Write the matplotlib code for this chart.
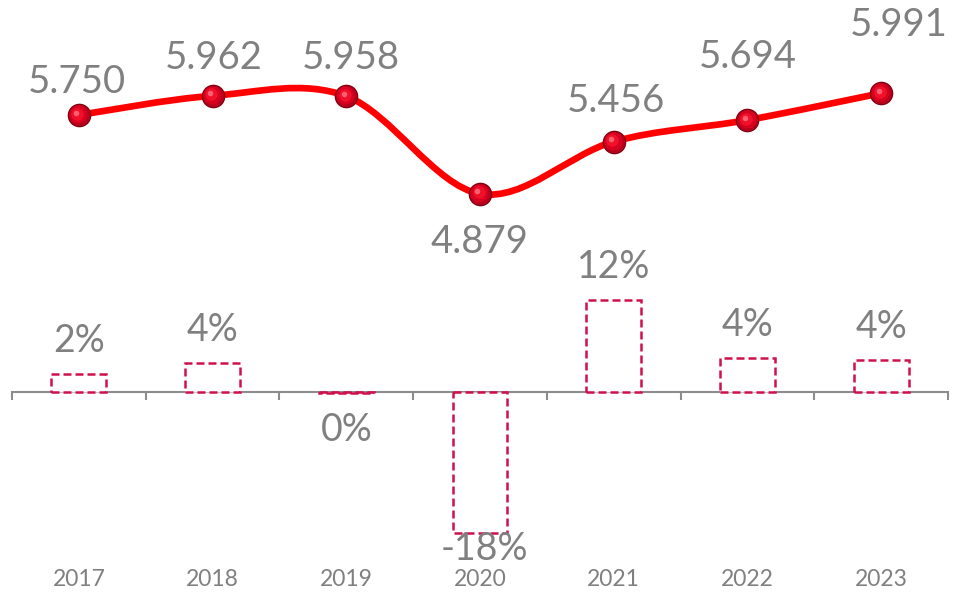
import numpy as np
import matplotlib
matplotlib.use("Agg")
import matplotlib.pyplot as plt
from matplotlib.path import Path
from matplotlib.patches import PathPatch
from matplotlib.transforms import blended_transform_factory, offset_copy

years = ["2017", "2018", "2019", "2020", "2021", "2022", "2023"]
values = [5750, 5962, 5958, 4879, 5456, 5694, 5991]
value_labels = ["5.750", "5.962", "5.958", "4.879", "5.456", "5.694", "5.991"]
growth = [2.3, 3.7, -0.1, -18.1, 11.8, 4.4, 4.1]
growth_labels = ["2%", "4%", "0%", "-18%", "12%", "4%", "4%"]

plt.rcParams['font.family'] = ['Lato', 'DejaVu Sans']
GREY = "#808080"
RED = "#FF0000"
BAR_EDGE = "#D0104C"

W, H = 955, 597
fig = plt.figure(figsize=(W / 100, H / 100), dpi=100)

left = 12 / W
width = (948 - 12) / W

# ---------- top: line ----------
y_lo, y_hi = 4500, 6200
top_px_hi = 115 - (y_hi - 5750) / 11.05
top_px_lo = 115 - (y_lo - 5750) / 11.05
ax1 = fig.add_axes([left, (H - top_px_lo) / H, width, (top_px_lo - top_px_hi) / H])
ax1.set_xlim(-0.5, 6.5)
ax1.set_ylim(y_lo, y_hi)
ax1.axis("off")

x = np.arange(len(values), dtype=float)
pts = np.column_stack([x, np.array(values, dtype=float)])
verts = [tuple(pts[0])]
codes = [Path.MOVETO]
n = len(pts)
for i in range(n - 1):
    p0 = pts[max(i - 1, 0)]
    p1 = pts[i]
    p2 = pts[i + 1]
    p3 = pts[min(i + 2, n - 1)]
    c1 = p1 + (p2 - p0) / 6.0
    c2 = p2 - (p3 - p1) / 6.0
    verts += [tuple(c1), tuple(c2), tuple(p2)]
    codes += [Path.CURVE4] * 3
ax1.add_patch(PathPatch(Path(verts, codes), facecolor="none", edgecolor=RED,
                        lw=4.8, capstyle="round", zorder=2, clip_on=False))

# shaded sphere markers
layers = [(17, "#7A0010", 0, 0), (15.5, "#B3001B", 0, 0), (13, "#D8001F", -0.6, 0.6),
          (9, "#F0102A", -1.0, 1.0), (4, "#FF6070", -1.8, 1.8)]
for ms, col, dx, dy in layers:
    tr = offset_copy(ax1.transData, fig=fig, x=dx, y=dy, units="points")
    ax1.plot(x, values, linestyle="none", marker="o", ms=ms, color=col,
             markeredgewidth=0, transform=tr, zorder=3, clip_on=False)

offsets = [(-2, 33), (1, 38), (5, 38), (-1, -48), (2, 41), (0, 63), (18, 68)]
for xi, v, lab, (dx, dy) in zip(x, values, value_labels, offsets):
    ax1.annotate(lab, (xi, v), xytext=(dx * 0.72, dy * 0.72), textcoords="offset points",
                 ha="center", va="center", fontsize=27.5, color=GREY,
                 annotation_clip=False)

# ---------- bottom: bars ----------
px_per = 7.8
g_lo, g_hi = -20, 14
zero_px = 392
b_bottom_px = zero_px - g_lo * px_per
b_top_px = zero_px - g_hi * px_per
ax2 = fig.add_axes([left, (H - b_bottom_px) / H, width, (b_bottom_px - b_top_px) / H])
ax2.set_xlim(-0.5, 6.5)
ax2.set_ylim(g_lo, g_hi)
for s in ["top", "right", "left"]:
    ax2.spines[s].set_visible(False)
ax2.spines["bottom"].set_position(("data", 0))
ax2.spines["bottom"].set_color("#8C8C8C")
ax2.spines["bottom"].set_linewidth(1.5)
ax2.spines["bottom"].set_zorder(1)
ax2.set_yticks([])
ax2.set_xticks(np.arange(-0.5, 7.0, 1.0))
ax2.set_xticklabels([])
ax2.tick_params(axis="x", direction="out", length=6, width=1.5, color="#8C8C8C")

ax2.bar(x, growth, width=0.41, facecolor="white", edgecolor=BAR_EDGE,
        linewidth=1.8, linestyle=(0, (3.2, 1.6)), zorder=2)

for xi, g, lab in zip(x, growth, growth_labels):
    if g >= 0:
        ax2.annotate(lab, (xi, g), xytext=(0, 33 * 0.72), textcoords="offset points",
                     ha="center", va="center", fontsize=27, color=GREY,
                     annotation_clip=False)
    else:
        off = -37 if g > -1 else -16
        ax2.annotate(lab, (xi + (0.03 if g < -1 else 0), min(g, 0)), xytext=(0, off * 0.72),
                     textcoords="offset points", ha="center", va="center",
                     fontsize=27, color=GREY, annotation_clip=False)

trans = blended_transform_factory(ax2.transData, fig.transFigure)
for xi, yr in zip(x, years):
    ax2.text(xi, (H - 580) / H, yr, transform=trans, ha="center", va="center",
             fontsize=16.5, color=GREY)

fig.savefig("out.png", dpi=100)
